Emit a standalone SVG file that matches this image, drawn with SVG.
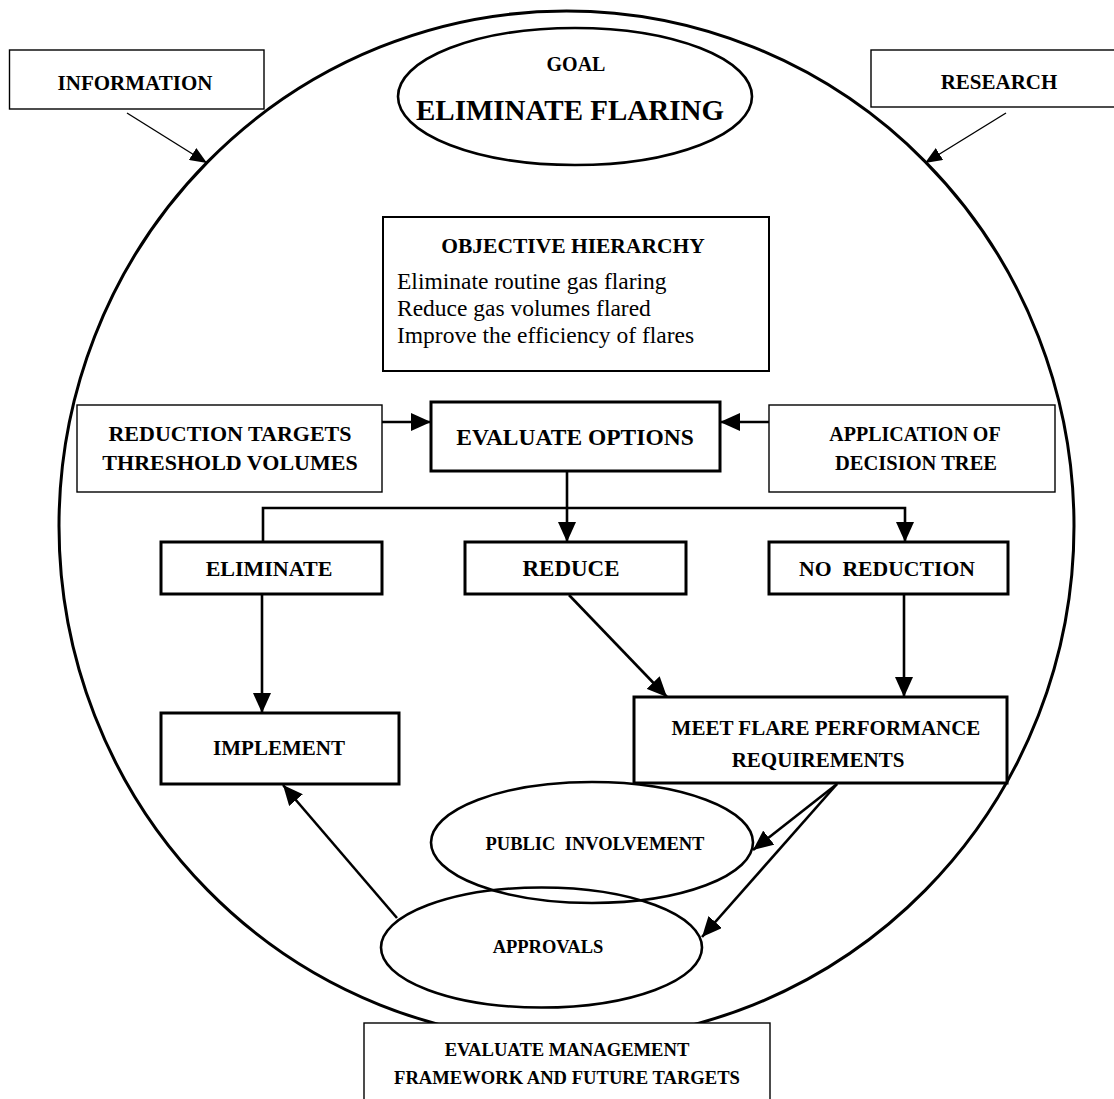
<svg xmlns="http://www.w3.org/2000/svg" width="1114" height="1099" viewBox="0 0 1114 1099">
<defs>
<style>
.t{font-family:"Liberation Serif","Times New Roman",serif;font-weight:bold;fill:#000;text-anchor:middle}
.r{font-family:"Liberation Serif","Times New Roman",serif;fill:#000}
.thin{fill:#fff;stroke:#000;stroke-width:1.4}
.thick{fill:#fff;stroke:#000;stroke-width:3}
.ell{fill:none;stroke:#000;stroke-width:2.6}
.ln{fill:none;stroke:#000;stroke-width:2.6}
.ln1{fill:none;stroke:#000;stroke-width:1.4}
</style>
<marker id="ahb" viewBox="0 0 20 18" refX="20" refY="9" markerWidth="20" markerHeight="18" markerUnits="userSpaceOnUse" orient="auto"><path d="M0,0 L20,9 L0,18 z" fill="#000"/></marker>
<marker id="ahs" viewBox="0 0 17 14" refX="17" refY="7" markerWidth="17" markerHeight="14" markerUnits="userSpaceOnUse" orient="auto"><path d="M0,0 L17,7 L0,14 z" fill="#000"/></marker>
</defs>
<rect width="1114" height="1099" fill="#fff"/>

<g id="boundary"><ellipse cx="566.5" cy="526" rx="507.5" ry="515" fill="none" stroke="#000" stroke-width="3"/></g>

<g id="connectors">
<line class="ln1" x1="127" y1="113" x2="207" y2="163" marker-end="url(#ahs)"/>
<line class="ln1" x1="1006" y1="113" x2="925" y2="163" marker-end="url(#ahs)"/>
<line class="ln" x1="382" y1="422" x2="431" y2="422" marker-end="url(#ahb)"/>
<line class="ln" x1="769" y1="422" x2="720" y2="422" marker-end="url(#ahb)"/>
<line class="ln" x1="567" y1="471" x2="567" y2="542" marker-end="url(#ahb)"/>
<polyline class="ln" points="263,542 263,508 905,508 905,542" marker-start="url(#ahb)" marker-end="url(#ahb)"/>
<line class="ln" x1="262" y1="594" x2="262" y2="713" marker-end="url(#ahb)"/>
<line class="ln" x1="569" y1="595" x2="667" y2="697" marker-end="url(#ahb)"/>
<line class="ln" x1="904" y1="594" x2="904" y2="697" marker-end="url(#ahb)"/>
<line class="ln" x1="837" y1="784" x2="753" y2="850" marker-end="url(#ahb)"/>
<line class="ln" x1="837" y1="784" x2="702" y2="937" marker-end="url(#ahb)"/>
<line class="ln" x1="397" y1="918" x2="283" y2="785" marker-end="url(#ahb)"/>
</g>

<g id="information"><rect class="thin" x="9.5" y="50" width="254.5" height="59"/><text class="t" x="135" y="90" font-size="21">INFORMATION</text></g>
<g id="research"><rect class="thin" x="871" y="50" width="250" height="57"/><text class="t" x="999" y="89" font-size="21">RESEARCH</text></g>
<g id="goal"><ellipse class="ell" cx="575" cy="96.5" rx="177" ry="68.5"/><text class="t" x="576" y="71" font-size="20">GOAL</text><text class="t" x="570" y="120" font-size="29">ELIMINATE FLARING</text></g>
<g id="objective"><rect x="383" y="217" width="386" height="154" fill="#fff" stroke="#000" stroke-width="2"/><text class="t" x="573" y="253" font-size="21.5">OBJECTIVE HIERARCHY</text>
<text class="r" x="397" y="289" font-size="23.5">Eliminate routine gas flaring</text>
<text class="r" x="397" y="316" font-size="23.5">Reduce gas volumes flared</text>
<text class="r" x="397" y="343" font-size="23.5">Improve the efficiency of flares</text></g>
<g id="reduction-targets"><rect class="thin" x="77" y="405" width="305" height="87"/><text class="t" x="230" y="441" font-size="22">REDUCTION TARGETS</text><text class="t" x="230" y="470" font-size="22">THRESHOLD VOLUMES</text></g>
<g id="evaluate-options"><rect class="thick" x="431" y="402" width="289" height="69"/><text class="t" x="575" y="445" font-size="23.5">EVALUATE OPTIONS</text></g>
<g id="decision-tree"><rect class="thin" x="769" y="405" width="286" height="87"/><text class="t" x="915" y="441" font-size="20">APPLICATION OF</text><text class="t" x="916" y="470" font-size="20.5">DECISION TREE</text></g>
<g id="eliminate"><rect class="thick" x="161" y="542" width="221" height="52"/><text class="t" x="269" y="576" font-size="22">ELIMINATE</text></g>
<g id="reduce"><rect class="thick" x="465" y="542" width="221" height="52"/><text class="t" x="571" y="576" font-size="23">REDUCE</text></g>
<g id="no-reduction"><rect class="thick" x="769" y="542" width="239" height="52"/><text class="t" x="887" y="576" font-size="21.7" xml:space="preserve">NO  REDUCTION</text></g>
<g id="implement"><rect class="thick" x="161" y="713" width="238" height="71"/><text class="t" x="279" y="755" font-size="21">IMPLEMENT</text></g>
<g id="meet"><rect class="thick" x="634" y="697" width="373" height="86"/><text class="t" x="826" y="735" font-size="21">MEET FLARE PERFORMANCE</text><text class="t" x="818" y="767" font-size="21">REQUIREMENTS</text></g>
<g id="public"><ellipse class="ell" cx="592" cy="842.5" rx="161" ry="60.5"/><text class="t" x="595" y="850" font-size="18.5" xml:space="preserve">PUBLIC  INVOLVEMENT</text></g>
<g id="approvals"><ellipse class="ell" cx="541.5" cy="947.5" rx="160.5" ry="60"/><text class="t" x="548" y="953" font-size="18.5">APPROVALS</text></g>
<g id="management"><rect class="thin" x="364" y="1023" width="406" height="90"/><text class="t" x="567" y="1056" font-size="18.6">EVALUATE MANAGEMENT</text><text class="t" x="567" y="1084" font-size="18.6">FRAMEWORK AND FUTURE TARGETS</text></g>
</svg>
